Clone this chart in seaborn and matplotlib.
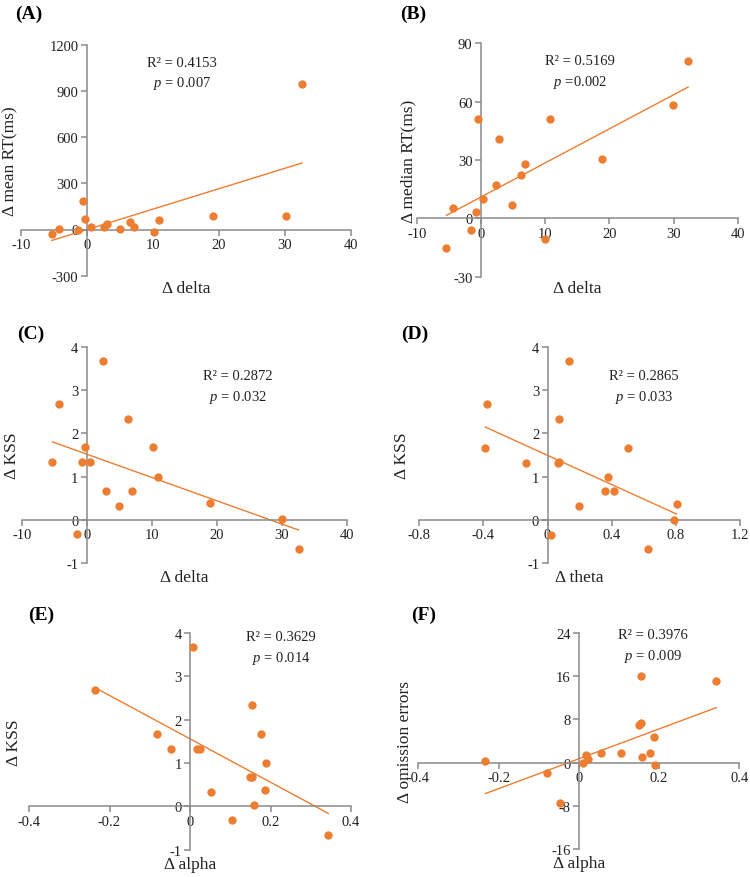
import matplotlib
matplotlib.use("Agg")
import matplotlib.pyplot as plt
import seaborn as sns

# ── Style ────────────────────────────────────────────────────
sns.set_theme(style="white")
plt.rcParams["font.family"] = ["Liberation Serif", "DejaVu Serif"]
plt.rcParams["mathtext.fontset"] = "custom"
plt.rcParams["mathtext.it"] = "Liberation Serif:italic"
plt.rcParams["mathtext.rm"] = "Liberation Serif"
plt.rcParams["axes.unicode_minus"] = False

ORANGE = "#ED7D31"
AXIS_GREY = "#8a8a8a"
TEXT = "#222222"

# ── Data ─────────────────────────────────────────────────────
a_delta = [-5.3, -4.2, -1.4, -0.6, -0.25, 0.6, 2.6, 3.0, 5.1, 6.5, 7.1, 10.2, 10.9, 19.1, 30.1, 32.6]
a_mean_rt = [-30, 4, -2, 188, 65, 13, 15, 37, 4, 50, 17, -17, 61, 89, 89, 944]

b_delta = [-5.4, -4.4, -1.55, -0.8, -0.4, 0.4, 2.4, 2.85, 4.9, 6.2, 6.9, 10.0, 10.8, 18.9, 29.9, 32.3]
b_median_rt = [-15.3, 5.5, -6, 3.1, 51, 10, 17.4, 40.7, 6.9, 22.2, 27.8, -10.6, 51, 30.4, 58.2, 81]

c_delta = [-5.3, -4.3, -1.5, -0.7, -0.3, 0.5, 2.5, 3.0, 5.0, 6.3, 7.0, 10.2, 10.9, 19.0, 30.1, 32.6]
c_kss = [1.33, 2.68, -0.33, 1.33, 1.68, 1.33, 3.67, 0.67, 0.33, 2.34, 0.67, 1.68, 1.0, 0.39, 0.02, -0.66]

d_theta = [-0.38, -0.39, -0.137, 0.023, 0.067, 0.07, 0.073, 0.133, 0.193, 0.36, 0.378, 0.414, 0.503, 0.626, 0.786, 0.805]
d_kss = [2.67, 1.66, 1.32, -0.35, 1.32, 1.33, 2.33, 3.67, 0.32, 0.66, 0.99, 0.66, 1.66, -0.68, 0.0, 0.37]

e_alpha = [-0.236, -0.081, -0.048, 0.008, 0.017, 0.025, 0.053, 0.104, 0.148, 0.153, 0.155, 0.158, 0.176, 0.186, 0.19, 0.344]
e_kss = [2.68, 1.68, 1.33, 3.68, 1.33, 1.33, 0.34, -0.32, 0.67, 0.67, 2.34, 0.02, 1.68, 0.38, 1.01, -0.66]

f_alpha = [-0.233, -0.08, -0.046, 0.01, 0.017, 0.024, 0.056, 0.105, 0.149, 0.154, 0.156, 0.158, 0.178, 0.187, 0.191, 0.343]
f_omission = [0.37, -1.98, -7.4, 0.0, 1.36, 0.65, 1.73, 1.73, 7.04, 16.1, 7.35, 0.99, 1.73, 4.69, -0.37, 15.1]

delta_ticks = [-10, 0, 10, 20, 30, 40]
theta_ticks = [-0.8, -0.4, 0, 0.4, 0.8, 1.2]
alpha_ticks = [-0.4, -0.2, 0, 0.2, 0.4]
kss_ticks = [-1, 0, 1, 2, 3, 4]
mean_rt_ticks = [-300, 0, 300, 600, 900, 1200]
median_rt_ticks = [-30, 0, 30, 60, 90]
omission_ticks = [-16, -8, 0, 8, 16, 24]

stats_text = {
    "A": ("R² = 0.4153", "$p$ = 0.007"),
    "B": ("R² = 0.5169", "$p$ =0.002"),
    "C": ("R² = 0.2872", "$p$ = 0.032"),
    "D": ("R² = 0.2865", "$p$ = 0.033"),
    "E": ("R² = 0.3629", "$p$ = 0.014"),
    "F": ("R² = 0.3976", "$p$ = 0.009"),
}

W, H = 750, 878


def px_rect(x0, x1, y_top, y_bot):
    """Axes rect from pixel coords of the outer tick positions."""
    return [x0 / W, 1 - y_bot / H, (x1 - x0) / W, (y_bot - y_top) / H]


def fmt(v):
    return f"{round(v, 3):g}"


def draw_panel(fig, rect, x, y, xticks, yticks, xlabel, ylabel, tag,
               tag_xy, text_xy, ylab_x, xlab_y):
    ax = fig.add_axes(rect)
    sns.scatterplot(x=x, y=y, ax=ax, color=ORANGE, s=36, linewidth=0, zorder=3)
    sns.regplot(x=x, y=y, ax=ax, scatter=False, ci=None, truncate=True,
                line_kws=dict(color=ORANGE, lw=1.0))
    ax.set_xlim(xticks[0], xticks[-1])
    ax.set_ylim(yticks[0], yticks[-1])
    ax.set_xticks(xticks)
    ax.set_yticks(yticks)
    ax.set_xticklabels([fmt(v) for v in xticks])
    ax.set_yticklabels([fmt(v) for v in yticks])

    # Excel-style axes crossing at zero
    for side in ["top", "right"]:
        ax.spines[side].set_visible(False)
    ax.spines["left"].set_position(("data", 0))
    ax.spines["bottom"].set_position(("data", 0))
    for side in ["left", "bottom"]:
        ax.spines[side].set_color(AXIS_GREY)
        ax.spines[side].set_linewidth(1.1)
    ax.tick_params(bottom=True, left=True, direction="out", length=4, width=1.1,
                   color=AXIS_GREY, labelsize=10.5, labelcolor=TEXT, pad=2)
    ax.set_facecolor("none")

    ax.set_xlabel(xlabel, fontsize=12.5, color=TEXT, va="center")
    ax.set_ylabel(ylabel, fontsize=12.5, color=TEXT, va="center")
    ax.xaxis.set_label_coords(0.5, xlab_y)
    ax.yaxis.set_label_coords(ylab_x, 0.5)

    r2, p = stats_text[tag]
    ax.text(text_xy[0], text_xy[1], r2, transform=ax.transAxes, ha="center",
            va="center", fontsize=10.5, color=TEXT)
    ax.text(text_xy[0], text_xy[2], p, transform=ax.transAxes, ha="center",
            va="center", fontsize=10.5, color=TEXT)

    fig.text(tag_xy[0] / W, 1 - tag_xy[1] / H, f"({tag})", fontsize=14,
             fontweight="bold", color="black", ha="left", va="center")
    return ax


fig = plt.figure(figsize=(W / 100, H / 100), dpi=100)

draw_panel(fig, px_rect(20.7, 351, 45.7, 276.7), a_delta, a_mean_rt,
           delta_ticks, mean_rt_ticks, "Δ delta", "Δ mean RT(ms)", "A",
           (15, 14), (0.488, 0.925, 0.838), -0.032, -0.053)
draw_panel(fig, px_rect(416.7, 737.7, 44.3, 277.7), b_delta, b_median_rt,
           delta_ticks, median_rt_ticks, "Δ delta", "Δ median RT(ms)", "B",
           (400, 14), (0.509, 0.928, 0.838), -0.027, -0.048)
draw_panel(fig, px_rect(21.7, 346.7, 347.7, 564.3), c_delta, c_kss,
           delta_ticks, kss_ticks, "Δ delta", "Δ KSS", "C",
           (17, 334), (0.666, 0.869, 0.772), -0.03, -0.063)
draw_panel(fig, px_rect(419.3, 740, 347.7, 564.3), d_theta, d_kss,
           theta_ticks, kss_ticks, "Δ theta", "Δ KSS", "D",
           (401, 334), (0.70, 0.869, 0.772), -0.054, -0.063)
draw_panel(fig, px_rect(29, 351, 634, 850.7), e_alpha, e_kss,
           alpha_ticks, kss_ticks, "Δ alpha", "Δ KSS", "E",
           (28, 615), (0.783, 0.986, 0.885), -0.047, -0.066)
draw_panel(fig, px_rect(418.3, 739.3, 634, 850), f_alpha, f_omission,
           alpha_ticks, omission_ticks, "Δ alpha", "Δ omission errors", "F",
           (411, 615), (0.731, 0.995, 0.898), -0.041, -0.065)

fig.savefig("out.png", dpi=100)
